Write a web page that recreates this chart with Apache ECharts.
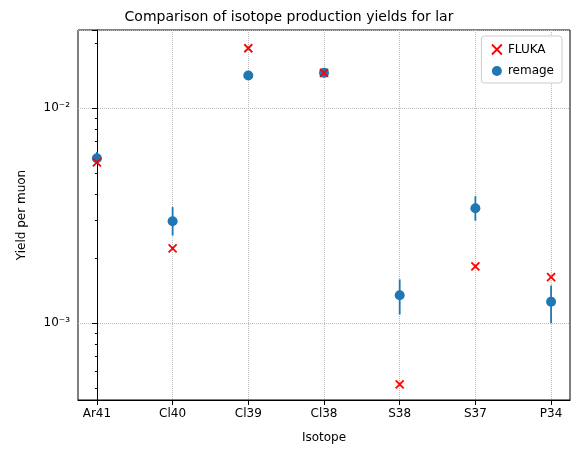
<!DOCTYPE html><html><head><meta charset="utf-8">
<script src="https://cdn.jsdelivr.net/npm/echarts@6/dist/echarts.min.js"></script>
<style>body{margin:0}#c{width:578px;height:454px}</style></head><body><div id="c"></div>
<script>
const isotopes=['Ar41','Cl40','Cl39','Cl38','S38','S37','P34'];
const remage=[5.85e-3,2.98e-3,1.42e-2,1.46e-2,1.35e-3,3.43e-3,1.26e-3];
const remageLow=[5.5e-3,2.56e-3,1.37e-2,1.41e-2,1.1e-3,3.0e-3,1.0e-3];
const remageHigh=[6.25e-3,3.47e-3,1.47e-2,1.51e-2,1.6e-3,3.9e-3,1.5e-3];
const fluka=[5.6e-3,2.23e-3,1.9e-2,1.46e-2,5.2e-4,1.84e-3,1.64e-3];
const blue='#1f77b4';
const xPath='path://M0,0L10,10M10,0L0,10';
const sup={'-':'⁻','1':'¹','2':'²','3':'³','4':'⁴'};
const chart=echarts.init(document.getElementById('c'));
const ff='DejaVu Sans';
chart.setOption({
 animation:false,
 textStyle:{fontFamily:ff},
 title:{text:'Comparison of isotope production yields for lar',left:'center',top:5,textStyle:{fontFamily:ff,fontSize:14,fontWeight:'normal',color:'#000'}},
 legend:{right:16,top:36,orient:'vertical',backgroundColor:'#fff',borderColor:'#ccc',borderWidth:1,borderRadius:3,padding:[6,8],itemGap:8,itemWidth:12,itemHeight:10,textStyle:{fontFamily:ff,fontSize:12,color:'#000'},
   data:[{name:'FLUKA',icon:xPath,itemStyle:{color:'none',borderColor:'#ff0000',borderWidth:1.8}},{name:'remage',icon:'circle',itemStyle:{color:blue}}]},
 grid:{left:78,right:8,top:30,bottom:54,show:true,borderColor:'#000',borderWidth:1},
 xAxis:{type:'value',min:-0.25,max:6.25,name:'Isotope',nameLocation:'middle',nameGap:32,nameTextStyle:{fontSize:12,color:'#000'},
   axisLine:{onZero:false,lineStyle:{color:'#000'}},
   axisTick:{customValues:[0,1,2,3,4,5,6],lineStyle:{color:'#000'}},
   axisLabel:{customValues:[0,1,2,3,4,5,6],formatter:v=>isotopes[Math.round(v)]||'',color:'#000',fontSize:12},
   splitLine:{show:true,customValues:[0,1,2,3,4,5,6],lineStyle:{type:'dotted',color:'#bbb'}}},
 yAxis:{type:'log',logBase:10,min:4.4e-4,max:2.31e-2,name:'Yield per muon',nameLocation:'middle',nameGap:50,nameTextStyle:{fontSize:12,color:'#000'},
   axisLine:{show:true,lineStyle:{color:'#000'}},axisTick:{show:true,lineStyle:{color:'#000'}},
   minorTick:{show:true,splitNumber:9,length:2,lineStyle:{color:'#000'}},
   axisLabel:{showMinLabel:false,showMaxLabel:false,color:'#000',fontSize:12,formatter:v=>{const e=Math.round(Math.log10(v));return '10'+String(e).split('').map(c=>sup[c]||c).join('');}},
   splitLine:{show:true,lineStyle:{type:'dotted',color:'#bbb'}}},
 series:[
  {name:'remage',type:'custom',data:isotopes.map((n,i)=>[i,remageLow[i],remageHigh[i]]),itemStyle:{color:blue},
   renderItem:(p,api)=>{const a=api.coord([api.value(0),api.value(1)]),b=api.coord([api.value(0),api.value(2)]);
     return {type:'line',shape:{x1:a[0],y1:a[1],x2:b[0],y2:b[1]},style:{stroke:blue,lineWidth:1.8}};},z:2},
  {name:'remage',type:'scatter',data:isotopes.map((n,i)=>[i,remage[i]]),symbol:'circle',symbolSize:10,itemStyle:{color:blue,opacity:1},z:3},
  {name:'FLUKA',type:'scatter',data:isotopes.map((n,i)=>[i,fluka[i]]),symbol:xPath,symbolSize:8,
   itemStyle:{color:'none',borderColor:'#ff0000',borderWidth:1.8,opacity:1},z:4}
 ]
});
</script></body></html>
